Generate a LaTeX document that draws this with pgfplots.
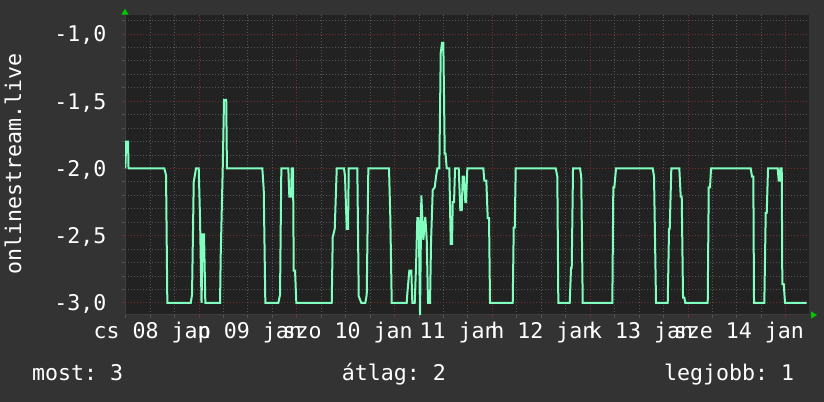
\documentclass[border=0pt]{standalone}
\usepackage{pgfplots}
\pgfplotsset{compat=1.18}
\usetikzlibrary{arrows.meta}
\usepackage{fontspec}
\setmainfont{DejaVu Sans Mono}
\setmonofont{DejaVu Sans Mono}
\definecolor{bg}{RGB}{51,51,51}
\definecolor{canvas}{RGB}{34,34,34}
\definecolor{mgrid}{RGB}{115,48,48}
\definecolor{mingrid}{RGB}{85,85,85}
\definecolor{ser}{RGB}{128,255,190}
\definecolor{arrowgreen}{RGB}{0,200,0}
\definecolor{axisc}{RGB}{62,62,62}
\newcommand{\myfont}{\fontsize{21.6bp}{26bp}\selectfont\frenchspacing}
\begin{document}
\frenchspacing
\begin{tikzpicture}
\path[use as bounding box, fill=bg] (0,0) rectangle (824bp,402bp);
\begin{axis}[
  at={(125bp,87bp)}, anchor=south west,
  scale only axis, width=684bp, height=300.3bp,
  xmin=-0.757, xmax=6.237, ymin=-3.09, ymax=-0.856,
  axis background/.style={fill=canvas},
  axis lines=left,
  axis line style={draw=axisc, line width=1bp},
  x axis line style={-{Triangle[length=6bp,width=7bp,color=arrowgreen]}, shorten >=-8bp},
  y axis line style={-{Triangle[length=6bp,width=7bp,color=arrowgreen]}, shorten >=-6bp},
  tick align=outside,
  xtick={0,1,2,3,4,5,6}, xticklabels={},
  minor xtick={-0.75,-0.5,-0.25,0.25,0.5,0.75,1.25,1.5,1.75,2.25,2.5,2.75,3.25,3.5,3.75,4.25,4.5,4.75,5.25,5.5,5.75},
  ytick={-3,-2.5,-2,-1.5,-1},
  yticklabels={{-3,0},{-2,5},{-2,0},{-1,5},{-1,0}},
  minor ytick={-2.9,-2.8,-2.7,-2.6,-2.4,-2.3,-2.2,-2.1,-1.9,-1.8,-1.7,-1.6,-1.4,-1.3,-1.2,-1.1,-0.9},
  grid=both,
  major grid style={draw=mgrid, dash pattern=on 1bp off 2bp, line width=1bp},
  minor grid style={draw=mingrid, dash pattern=on 1bp off 2bp, line width=1bp},
  major tick length=3bp, minor tick length=3bp,
  major tick style={draw=mgrid, line width=1bp},
  minor tick style={draw=mingrid, line width=1bp},
  extra x ticks={-0.5,0.5,1.5,2.5,3.5,4.5,5.5},
  extra x tick labels={cs 08 jan, p 09 jan, szo 10 jan, \phantom{v} 11 jan, h 12 jan, k 13 jan, sze 14 jan},
  extra x tick style={grid=none, major tick length=0pt},
  xticklabel style={anchor=base, yshift=-23.5bp, xshift=2bp, inner sep=0pt, text=white, font=\myfont},
  yticklabel style={anchor=base east, inner sep=0pt, xshift=-15.5bp, yshift=-7.9bp, text=white, font=\myfont},
  ylabel={onlinestream.live},
  ylabel style={at={(axis description cs:-0.1637,0.503)}, anchor=center, text=white, font=\myfont, inner sep=0pt},
]
\addplot[color=ser, line width=2bp, mark=none] coordinates {
(-0.7536,-2.0) (-0.7444,-1.80) (-0.7260,-1.80) (-0.7209,-2.0)
(-0.3548,-2.0) (-0.3374,-2.05) (-0.3241,-3.0)
(-0.0849,-3.0) (-0.0716,-2.94) (-0.0542,-2.10) (-0.0307,-2.0) (-0.0031,-2.0) (0.0102,-2.37) (0.0256,-3.0) (0.0378,-2.49) (0.0511,-2.49) (0.0644,-3.0)
(0.2147,-3.0) (0.2219,-2.64) (0.2423,-2.0) (0.2556,-1.49) (0.2781,-1.49) (0.2853,-2.0)
(0.6472,-2.0) (0.6616,-2.16) (0.6779,-3.0)
(0.8108,-3.0) (0.8282,-2.94) (0.8415,-2.0) (0.9131,-2.0) (0.9233,-2.21) (0.9407,-2.21) (0.9479,-2.0) (0.9611,-2.0) (0.9683,-2.76) (0.9816,-2.76) (0.9949,-3.0)
(1.3569,-3.0) (1.3671,-2.51) (1.3875,-2.45) (1.4080,-2.0) (1.4826,-2.0) (1.4928,-2.06) (1.5102,-2.45) (1.5235,-2.45) (1.5307,-2.0)
(1.6186,-2.0) (1.6329,-2.95) (1.6595,-3.0) (1.7004,-3.0) (1.7147,-2.94) (1.7311,-2.0)
(1.9427,-2.0) (1.9560,-2.37) (1.9703,-3.0)
(2.1237,-3.0) (2.1299,-2.93) (2.1503,-2.76) (2.1708,-2.76) (2.1810,-3.0) (2.2055,-3.0) (2.2188,-2.73) (2.2321,-2.37) (2.2464,-2.37) (2.2597,-3.09) (2.2730,-2.20) (2.2935,-2.53) (2.3139,-2.36) (2.3282,-2.53) (2.3415,-3.0) (2.3620,-3.0) (2.3722,-2.55) (2.3896,-2.16) (2.4100,-2.14) (2.4233,-2.06) (2.4366,-2.0) (2.4571,-2.0) (2.4714,-1.14) (2.4847,-1.065) (2.4980,-1.065) (2.5123,-1.89) (2.5204,-1.89) (2.5327,-2.0) (2.5593,-2.0) (2.5736,-2.56) (2.5869,-2.56) (2.5941,-2.25) (2.6074,-2.25) (2.6176,-2.0) (2.6554,-2.0) (2.6718,-2.31) (2.6861,-2.31) (2.6963,-2.06) (2.7096,-2.06) (2.7229,-2.25) (2.7301,-2.25) (2.7434,-2.0)
(2.9070,-2.0) (2.9172,-2.09) (2.9376,-2.09) (2.9519,-2.37) (2.9652,-2.37) (2.9755,-3.0)
(3.2076,-3.0) (3.2178,-2.44) (3.2281,-2.44) (3.2382,-2.0)
(3.6472,-2.0) (3.6636,-2.06) (3.6738,-3.0)
(3.7904,-3.0) (3.8037,-2.74) (3.8108,-2.74) (3.8241,-2.0) (3.8957,-2.0) (3.9080,-2.06) (3.9233,-3.0)
(4.2260,-3.0) (4.2362,-2.14) (4.2464,-2.14) (4.2638,-2.0) (4.6391,-2.0) (4.6524,-2.06) (4.6728,-3.0)
(4.7924,-3.0) (4.8057,-2.45) (4.8129,-2.45) (4.8292,-2.0) (4.9110,-2.0) (4.9254,-2.21) (4.9356,-2.21) (4.9489,-2.96) (4.9622,-2.96) (4.9724,-3.0)
(5.2014,-3.0) (5.2117,-2.14) (5.2249,-2.14) (5.2352,-2.0) (5.6411,-2.0) (5.6544,-2.06) (5.6677,-2.06) (5.6748,-3.0)
(5.7802,-3.0) (5.7945,-2.33) (5.8047,-2.33) (5.8180,-2.0) (5.9172,-2.0) (5.9274,-2.09) (5.9376,-2.09) (5.9438,-2.0) (5.9581,-2.0) (5.9642,-2.86) (5.9785,-2.86) (5.9918,-3.0) (6.2137,-3.0)
};
\end{axis}
\node[anchor=base west, text=white, font=\myfont, inner sep=0pt] at (32bp,22bp) {most: 3};
\node[anchor=base west, text=white, font=\myfont, inner sep=0pt] at (341.7bp,22bp) {átlag: 2};
\node[anchor=base west, text=white, font=\myfont, inner sep=0pt] at (664bp,22bp) {legjobb: 1};
\end{tikzpicture}
\end{document}
